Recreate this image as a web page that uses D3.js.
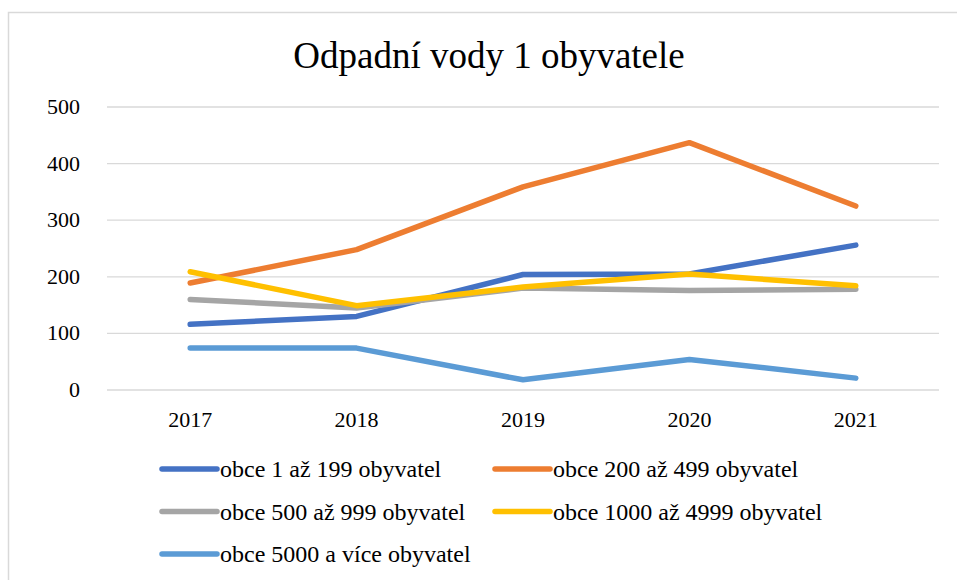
<!DOCTYPE html>
<html>
<head>
<meta charset="utf-8">
<script src="https://cdn.jsdelivr.net/npm/d3@7"></script>
<style>
  body { margin: 0; background: #fff; }
</style>
</head>
<body>
<script>
// data
var years = ["2017", "2018", "2019", "2020", "2021"];
var seriesNames = [
  "obce 1 až 199 obyvatel",
  "obce 200 až 499 obyvatel",
  "obce 500 až 999 obyvatel",
  "obce 1000 až 4999 obyvatel",
  "obce 5000 a více obyvatel"
];
var obce1 = [116, 130, 204, 205, 256];
var obce200 = [189, 248, 359, 437, 325];
var obce500 = [160, 145, 180, 176, 178];
var obce1000 = [209, 149, 182, 205, 184];
var obce5000 = [74, 74, 18, 54, 21];
var yTicks = [0, 100, 200, 300, 400, 500];
var colors = ["#4472C4", "#ED7D31", "#A5A5A5", "#FFC000", "#5B9BD5"];

var allSeries = [obce1, obce200, obce500, obce1000, obce5000];

var width = 957, height = 580;
var svg = d3.select("body").append("svg")
  .attr("width", width)
  .attr("height", height)
  .attr("font-family", "'Liberation Serif', 'Times New Roman', Tinos, serif")
  .style("font-family", "'Liberation Serif', 'Times New Roman', Tinos, serif");

// chart border
svg.append("rect")
  .attr("x", 8.5).attr("y", 12.5)
  .attr("width", 960).attr("height", 600)
  .attr("fill", "none")
  .attr("stroke", "#d9d9d9")
  .attr("stroke-width", 1.5);

// title
svg.append("text")
  .attr("x", 489).attr("y", 68)
  .attr("text-anchor", "middle")
  .style("font-size", "37px")
  .text("Odpadní vody 1 obyvatele");

var x = d3.scaleBand().domain(years).range([107, 939]);
var y = d3.scaleLinear().domain([0, 500]).range([390, 107]);

// gridlines
svg.selectAll("line.grid")
  .data(yTicks)
  .enter()
  .append("line")
    .attr("class", "grid")
    .attr("x1", 107).attr("x2", 939)
    .attr("y1", function(d){ return y(d); })
    .attr("y2", function(d){ return y(d); })
    .attr("stroke", "#d9d9d9")
    .attr("stroke-width", 1.3);

// y labels
svg.selectAll("text.ylab")
  .data(yTicks)
  .enter()
  .append("text")
    .attr("class", "ylab")
    .attr("x", 80)
    .attr("y", function(d){ return y(d) + 7; })
    .attr("text-anchor", "end")
    .style("font-size", "22px")
    .text(function(d){ return d; });

// x labels
svg.selectAll("text.xlab")
  .data(years)
  .enter()
  .append("text")
    .attr("class", "xlab")
    .attr("x", function(d){ return x(d) + x.bandwidth() / 2; })
    .attr("y", 427)
    .attr("text-anchor", "middle")
    .style("font-size", "22px")
    .text(function(d){ return d; });

// lines
var line = d3.line()
  .x(function(d, i){ return x(years[i]) + x.bandwidth() / 2; })
  .y(function(d){ return y(d); });

svg.selectAll("path.series")
  .data(allSeries)
  .enter()
  .append("path")
    .attr("class", "series")
    .attr("d", line)
    .attr("fill", "none")
    .attr("stroke", function(d, i){ return colors[i]; })
    .attr("stroke-width", 5.5)
    .attr("stroke-linecap", "round")
    .attr("stroke-linejoin", "round");

// legend
var legend = svg.selectAll("g.legend")
  .data(seriesNames)
  .enter()
  .append("g")
    .attr("class", "legend")
    .attr("transform", function(d, i){
      var lx = (i % 2 == 0) ? 162 : 495;
      var ly = 469 + Math.floor(i / 2) * 42.5;
      return "translate(" + lx + "," + ly + ")";
    });
legend.append("line")
  .attr("x1", 0).attr("x2", 55)
  .attr("y1", 0).attr("y2", 0)
  .attr("stroke", function(d, i){ return colors[i]; })
  .attr("stroke-width", 5.5)
  .attr("stroke-linecap", "round");
legend.append("text")
  .attr("x", 58)
  .attr("y", 8)
  .style("font-size", "24px")
  .text(function(d){ return d; });
</script>
</body>
</html>
